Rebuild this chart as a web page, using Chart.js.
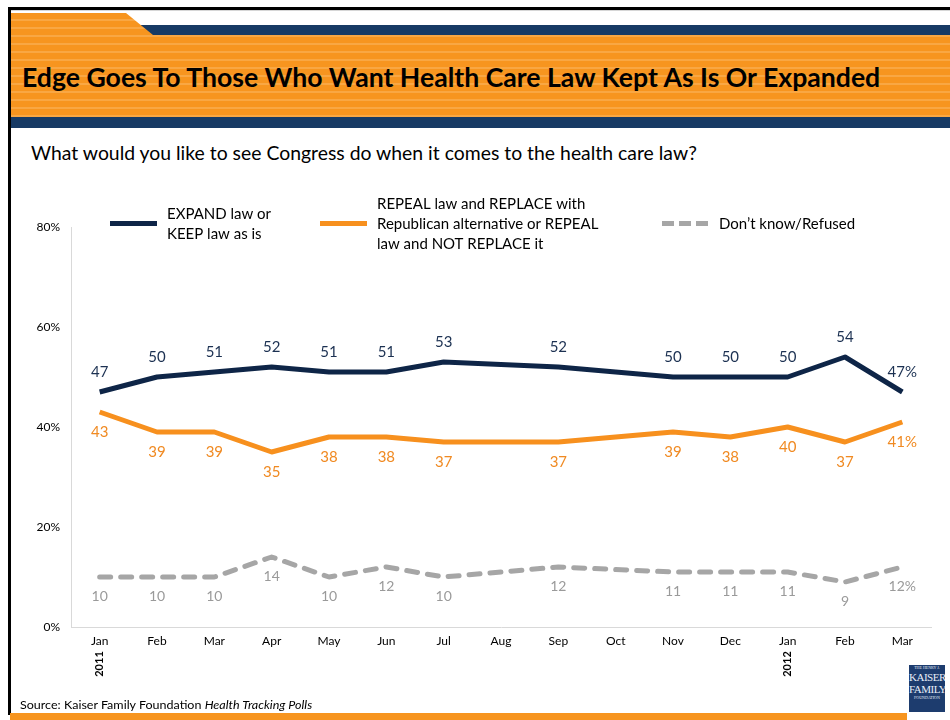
<!DOCTYPE html>
<html>
<head>
<meta charset="utf-8">
<script src="https://cdn.jsdelivr.net/npm/chart.js@4"></script>
<style>
  html, body { margin: 0; padding: 0; background: #fff; }
  #page { position: relative; width: 950px; height: 720px; overflow: hidden; background: #fff; font-family: Lato, "Open Sans", sans-serif; }
  .abs { position: absolute; }
  #topBorder { left: 8px; top: 7px; width: 942px; height: 3px; background: #000; }
  #topGrey { left: 11px; top: 10px; width: 939px; height: 1px; background: #d6d6d6; }
  #leftBorder { left: 8px; top: 7px; width: 3px; height: 708px; background: #000; }
  #navyTop { left: 130px; top: 25px; width: 820px; height: 10px; background: #173a64; }
  #orange { left: 11px; top: 13px; width: 939px; height: 104px;
    background: repeating-linear-gradient(to bottom, #f7951f 0px, #f7951f 6px, #f9a743 6px, #f9a743 8px);
    clip-path: polygon(0px 0px, 115px 0px, 142px 22px, 939px 22px, 939px 104px, 0px 104px); }
  #navyBottom { left: 11px; top: 117px; width: 939px; height: 11px; background: #173a64; }
  #title { left: 22px; top: 60px; font-weight: 700; font-size: 26px; color: #000; white-space: nowrap; transform-origin: 0 0; line-height: 34px; }
  #subtitle { left: 31px; top: 141px; font-size: 19px; color: #000; white-space: nowrap; transform-origin: 0 0; line-height: 24px; }
  #source { left: 20px; top: 697px; font-size: 12px; color: #000; white-space: nowrap; transform-origin: 0 0; line-height: 15px; }
  #bottomBar { left: 10px; top: 713px; width: 897px; height: 7px; background: #f7951f; }
  #logo { left: 909px; top: 665px; width: 36px; height: 47px; background: #1d3c6e; color: #e8eef8; font-family: "Liberation Serif", serif; text-align: center; overflow: hidden; }
  #logo .s { font-size: 4px; line-height: 6px; letter-spacing: 0px; }
  #logo .b { font-size: 11px; line-height: 12px; letter-spacing: -0.5px; }
  canvas { position: absolute; left: 0; top: 0; }
</style>
</head>
<body>
<div id="page">
  <div class="abs" id="topBorder"></div>
  <div class="abs" id="topGrey"></div>
  <div class="abs" id="navyTop"></div>
  <div class="abs" id="orange"></div>
  <div class="abs" id="navyBottom"></div>
  <div class="abs" id="leftBorder"></div>
  <div class="abs" id="title">Edge Goes To Those Who Want Health Care Law Kept As Is Or Expanded</div>
  <div class="abs" id="subtitle">What would you like to see Congress do when it comes to the health care law?</div>
  <canvas id="chart" width="950" height="720"></canvas>
  <div class="abs" id="source">Source: Kaiser Family Foundation <i>Health Tracking Polls</i></div>
  <div class="abs" id="bottomBar"></div>
  <div class="abs" id="logo"><div class="s">THE HENRY J.</div><div class="b">KAISER</div><div class="b">FAMILY</div><div class="s">FOUNDATION</div></div>
</div>
<script>
// ---- data ----
const months = ['Jan','Feb','Mar','Apr','May','Jun','Jul','Aug','Sep','Oct','Nov','Dec','Jan','Feb','Mar'];
const yearLabels = ['2011', null, null, null, null, null, null, null, null, null, null, null, '2012', null, null];
const expandKeep = [47, 50, 51, 52, 51, 51, 53, null, 52, null, 50, 50, 50, 54, 47];
const repealReplace = [43, 39, 39, 35, 38, 38, 37, null, 37, null, 39, 38, 40, 37, 41];
const dontKnow = [10, 10, 10, 14, 10, 12, 10, null, 12, null, 11, 11, 11, 9, 12];
const seriesNames = [
  ['EXPAND law or', 'KEEP law as is'],
  ['REPEAL law and REPLACE with', 'Republican alternative or REPEAL', 'law and NOT REPLACE it'],
  ['Don\u2019t know/Refused']
];
const yTicks = [0, 20, 40, 60, 80];

// ---- fit header texts to reference widths ----
function fitWidth(id, target) {
  const el = document.getElementById(id);
  const w = el.scrollWidth;
  if (w > 0) el.style.transform = 'scaleX(' + (target / w) + ')';
}

const FONT = 'Lato, "Open Sans", sans-serif';
const NAVY = '#0e2547';
const ORANGE = '#f7901e';
const GREY = '#a6a6a6';

const dataLabelPlugin = {
  id: 'dataLabels',
  afterDatasetsDraw(chart) {
    const ctx = chart.ctx;
    const cfg = [
      { color: '#1c3152', dy: -20, font: '15px ' + FONT },
      { color: '#f08a22', dy: 20, font: '15px ' + FONT },
      { color: '#9a9a9a', dy: 19, font: '14px ' + FONT }
    ];
    ctx.save();
    ctx.textAlign = 'center';
    ctx.textBaseline = 'middle';
    chart.data.datasets.forEach((ds, i) => {
      const meta = chart.getDatasetMeta(i);
      ds.data.forEach((v, j) => {
        if (v === null) return;
        const pt = meta.data[j];
        const txt = v + (j === ds.data.length - 1 ? '%' : '');
        ctx.font = cfg[i].font;
        ctx.fillStyle = cfg[i].color;
        ctx.fillText(txt, pt.x, pt.y + cfg[i].dy);
      });
    });
    ctx.restore();
  }
};

const yearPlugin = {
  id: 'years',
  afterDraw(chart) {
    const ctx = chart.ctx;
    const xs = chart.scales.x;
    ctx.save();
    ctx.font = 'bold 11px ' + FONT;
    ctx.fillStyle = '#000';
    ctx.textAlign = 'center';
    ctx.textBaseline = 'middle';
    yearLabels.forEach((y, i) => {
      if (!y) return;
      const x = xs.getPixelForValue(i);
      ctx.save();
      ctx.translate(x, 664);
      ctx.rotate(-Math.PI / 2);
      ctx.fillText(y, 0, 0);
      ctx.restore();
    });
    ctx.restore();
  }
};

const legendPlugin = {
  id: 'customLegend',
  afterDraw(chart) {
    const ctx = chart.ctx;
    const items = [
      { x0: 110, x1: 157, tx: 167, lines: seriesNames[0], lineY: [214, 234] },
      { x0: 320, x1: 367, tx: 377, lines: seriesNames[1], lineY: [204, 224, 244] },
      { x0: 662, x1: 709, tx: 719, lines: seriesNames[2], lineY: [224] }
    ];
    ctx.save();
    chart.data.datasets.forEach((ds, i) => {
      const it = items[i];
      ctx.strokeStyle = ds.borderColor;
      ctx.lineWidth = 5;
      ctx.lineCap = 'butt';
      if (i === 2) ctx.setLineDash([12, 5]); else ctx.setLineDash([]);
      ctx.beginPath();
      ctx.moveTo(it.x0, 223.5);
      ctx.lineTo(it.x1, 223.5);
      ctx.stroke();
      ctx.font = '15px ' + FONT;
      ctx.fillStyle = '#000';
      ctx.textAlign = 'left';
      ctx.textBaseline = 'middle';
      it.lines.forEach((ln, k) => ctx.fillText(ln, it.tx, it.lineY[k]));
    });
    ctx.restore();
  }
};

function build() {
  fitWidth('title', 858);
  fitWidth('subtitle', 666);
  fitWidth('source', 292);
  const ctx = document.getElementById('chart').getContext('2d');
  new Chart(ctx, {
    type: 'line',
    data: {
      labels: months,
      datasets: [
        { label: seriesNames[0].join(' '), data: expandKeep, borderColor: NAVY, backgroundColor: NAVY, borderWidth: 5, pointRadius: 0, spanGaps: true, tension: 0, borderJoinStyle: 'round' },
        { label: seriesNames[1].join(' '), data: repealReplace, borderColor: ORANGE, backgroundColor: ORANGE, borderWidth: 5, pointRadius: 0, spanGaps: true, tension: 0, borderJoinStyle: 'round' },
        { label: seriesNames[2][0], data: dontKnow, borderColor: GREY, backgroundColor: GREY, borderWidth: 5, pointRadius: 0, spanGaps: true, tension: 0, borderDash: [11, 10], borderCapStyle: 'round', borderJoinStyle: 'round' }
      ]
    },
    options: {
      responsive: false,
      animation: false,
      devicePixelRatio: 1,
      layout: { padding: { left: 31, right: 19, top: 227, bottom: 0 } },
      plugins: { legend: { display: false }, tooltip: { enabled: false } },
      scales: {
        x: {
          type: 'category',
          offset: true,
          grid: { display: false, drawTicks: false },
          border: { display: true, color: '#d9d9d9', width: 1 },
          ticks: { color: '#000', font: { family: FONT, size: 12 }, padding: 7, maxRotation: 0, autoSkip: false },
          afterFit(s) { s.height = 93; }
        },
        y: {
          min: 0, max: 80,
          afterBuildTicks(s) { s.ticks = yTicks.map(v => ({ value: v })); },
          grid: { display: false, drawTicks: false },
          border: { display: true, color: '#d9d9d9', width: 1 },
          ticks: { color: '#000', font: { family: FONT, size: 12 }, padding: 11, callback: v => v + '%' },
          afterFit(s) { s.width = 40; }
        }
      }
    },
    plugins: [dataLabelPlugin, yearPlugin, legendPlugin]
  });
}

const fontLoads = ['15px Lato', 'bold 26px Lato', '12px Lato', 'bold 11px Lato', 'italic 12px Lato'].map(f => document.fonts.load(f).catch(() => null));
Promise.race([Promise.all(fontLoads), new Promise(r => setTimeout(r, 800))]).then(build);
</script>
</body>
</html>
